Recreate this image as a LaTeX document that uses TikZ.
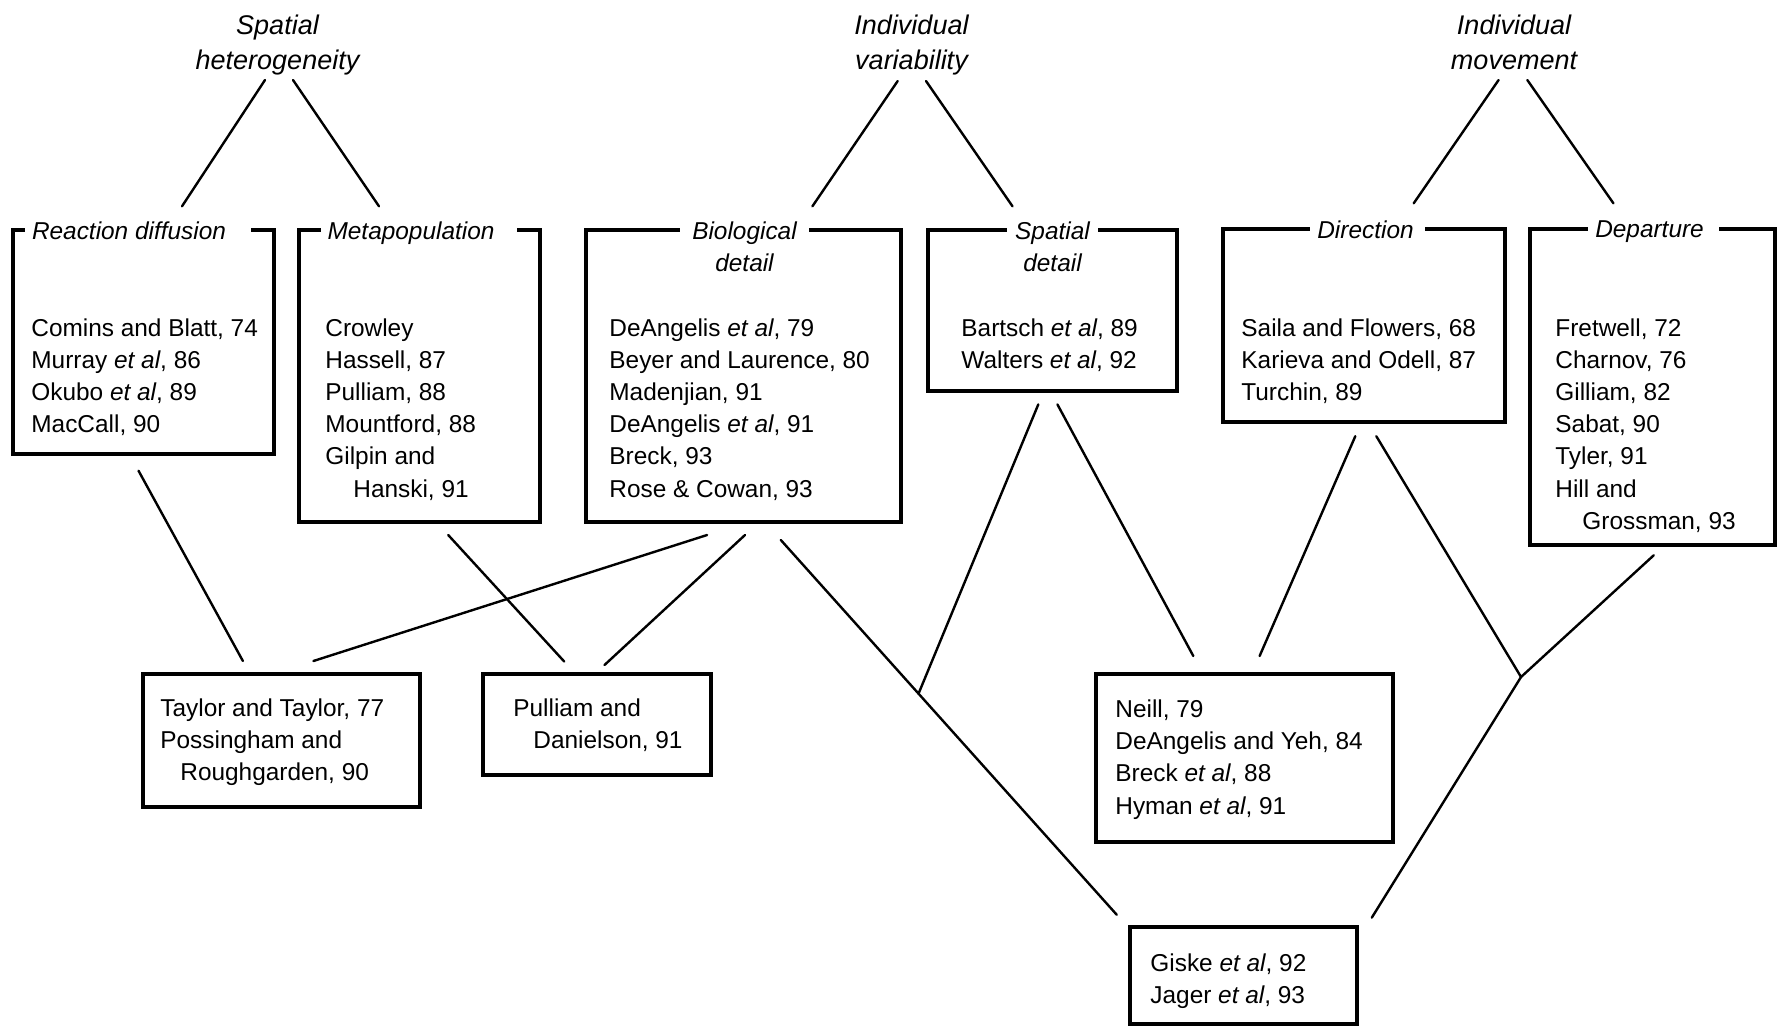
\documentclass[tikz,border=0pt]{standalone}
\usepackage{fontspec}
\setmainfont{Liberation Sans}
\usepackage{tikz}
\usetikzlibrary{positioning}
\usetikzlibrary{calc}
\usetikzlibrary{fit}

\begin{document}
\begin{tikzpicture}
      [x=0.5pt, y=-0.5pt,
       box/.style={draw, line width=1.7pt, inner sep=0pt},
       ttl/.style={anchor=north, fill=white, inner xsep=3.5pt, inner ysep=0pt, align=center,
                   font=\fontsize{12.2}{16}\selectfont\itshape},
       head/.style={anchor=north, inner sep=0pt, align=center,
                    font=\fontsize{13.5}{17.5}\selectfont\itshape},
       refs/.style={anchor=north west, inner sep=0pt, align=left,
                    font=\fontsize{12.2}{16.1}\selectfont},
       link/.style={line width=1.2pt, line cap=round}]
    \useasboundingbox (0,0) rectangle (1781,1028);

    \node[head] (sh) at (277.5,15) {Spatial\\heterogeneity};
    \node[head] (iv) at (911.5,15) {Individual\\variability};
    \node[head] (im) at (1514,15)  {Individual\\movement};

    \node[box, fit={(13,230) (274,454)}] (rd) {};
    \node[ttl] (rdT) at (138,221) {Reaction diffusion\hspace*{9pt}};
    \node[refs] (rdR) at (31,318) {Comins and Blatt, 74\\Murray \textit{et al}, 86\\Okubo \textit{et al}, 89\\MacCall, 90};

    \node[box, fit={(299,230) (540,522)}] (mp) {};
    \node[ttl] (mpT) at (419,221) {Metapopulation\hspace*{8pt}};
    \node[refs] (mpR) at (325,318) {Crowley\\Hassell, 87\\Pulliam, 88\\Mountford, 88\\Gilpin and\\\hspace*{14pt}Hanski, 91};

    \node[box, fit={(586,230) (901,522)}] (bd) {};
    \node[ttl, inner xsep=6pt] (bdT) at (744.5,221) {Biological\\detail};
    \node[refs] (bdR) at (609,318) {DeAngelis \textit{et al}, 79\\Beyer and Laurence, 80\\Madenjian, 91\\DeAngelis \textit{et al}, 91\\Breck, 93\\Rose \& Cowan, 93};

    \node[box, fit={(928,230) (1177,391)}] (sd) {};
    \node[ttl, inner xsep=4pt] (sdT) at (1052.5,221) {Spatial\\detail};
    \node[refs] (sdR) at (961,318) {Bartsch \textit{et al}, 89\\Walters \textit{et al}, 92};

    \node[box, fit={(1223,229) (1505,422)}] (dr) {};
    \node[ttl] (drT) at (1367.5,220) {Direction\hspace*{2pt}};
    \node[refs] (drR) at (1241,318) {Saila and Flowers, 68\\Karieva and Odell, 87\\Turchin, 89};

    \node[box, fit={(1530,229) (1775,545)}] (dp) {};
    \node[ttl] (dpT) at (1653.5,220) {Departure\hspace*{4pt}};
    \node[refs] (dpR) at (1555,318) {Fretwell, 72\\Charnov, 76\\Gilliam, 82\\Sabat, 90\\Tyler, 91\\Hill and\\\hspace*{13.5pt}Grossman, 93};

    \node[box, fit={(143,674) (420,807)}] (tt) {};
    \node[refs] (ttR) at (160,698) {Taylor and Taylor, 77\\Possingham and\\\hspace*{10pt}Roughgarden, 90};

    \node[box, fit={(483,674) (711,775)}] (pd) {};
    \node[refs] (pdR) at (513,698) {Pulliam and\\\hspace*{10pt}Danielson, 91};

    \node[box, fit={(1096,674) (1393,842)}] (ne) {};
    \node[refs] (neR) at (1115,699.5) {Neill, 79\\DeAngelis and Yeh, 84\\Breck \textit{et al}, 88\\Hyman \textit{et al}, 91};

    \node[box, fit={(1130,927) (1357,1024)}] (gj) {};
    \node[refs] (gjR) at (1150,953.6) {Giske \textit{et al}, 92\\Jager \textit{et al}, 93};

    \draw[link] ($(sh.north)+(-12.5,65)$) -- ($(rd.north)+(38.5,-22)$);
    \draw[link] ($(sh.north)+(15.5,65)$)  -- ($(mp.north)+(-40.5,-22)$);
    \draw[link] ($(iv.north)+(-13.8,66)$) -- ($(bd.north)+(68.9,-22)$);
    \draw[link] ($(iv.north)+(14.5,66)$)  -- ($(sd.north)+(-40,-22)$);
    \draw[link] ($(im.north)+(-15.4,65)$) -- ($(dr.north)+(49.7,-24)$);
    \draw[link] ($(im.north)+(13.3,65)$)  -- ($(dp.north)+(-39.1,-24)$);

    \draw[link] ($(rd.south)+(-5,15)$)      -- ($(tt.north)+(-38.6,-11.3)$);
    \draw[link] ($(mp.south)+(28.7,11.3)$)  -- ($(pd.north)+(-32.7,-10.7)$);
    \draw[link] ($(bd.south)+(-36.4,11.3)$) -- ($(tt.north)+(31.9,-11.3)$);
    \draw[link] ($(bd.south)+(1.5,11.3)$)   -- ($(pd.north)+(7.5,-7.3)$);

    \coordinate (bdg) at ($(bd.south)+(37.3,16.3)$);
    \coordinate (gjb) at ($(gj.north)+(-126.8,-10.6)$);
    \coordinate (j1) at ($(bdg)!0.41!(gjb)$);
    \coordinate (j2) at (1521,677);
    \draw[link] (bdg) -- (gjb);
    \draw[link] ($(sd.south)+(-14.2,11.7)$) -- (j1);
    \draw[link] ($(sd.south)+(4.9,11.7)$)   -- ($(ne.north)+(-51.2,-16.3)$);
    \draw[link] ($(dr.south)+(-8.7,12.5)$)  -- ($(ne.north)+(15.1,-16.3)$);
    \draw[link] ($(dr.south)+(12.3,12.5)$)  -- (j2);
    \draw[link] ($(dp.south)+(1.2,8.6)$)    -- (j2);
    \draw[link] (j2) -- ($(gj.north)+(128.3,-7.7)$);
\end{tikzpicture}
\end{document}
